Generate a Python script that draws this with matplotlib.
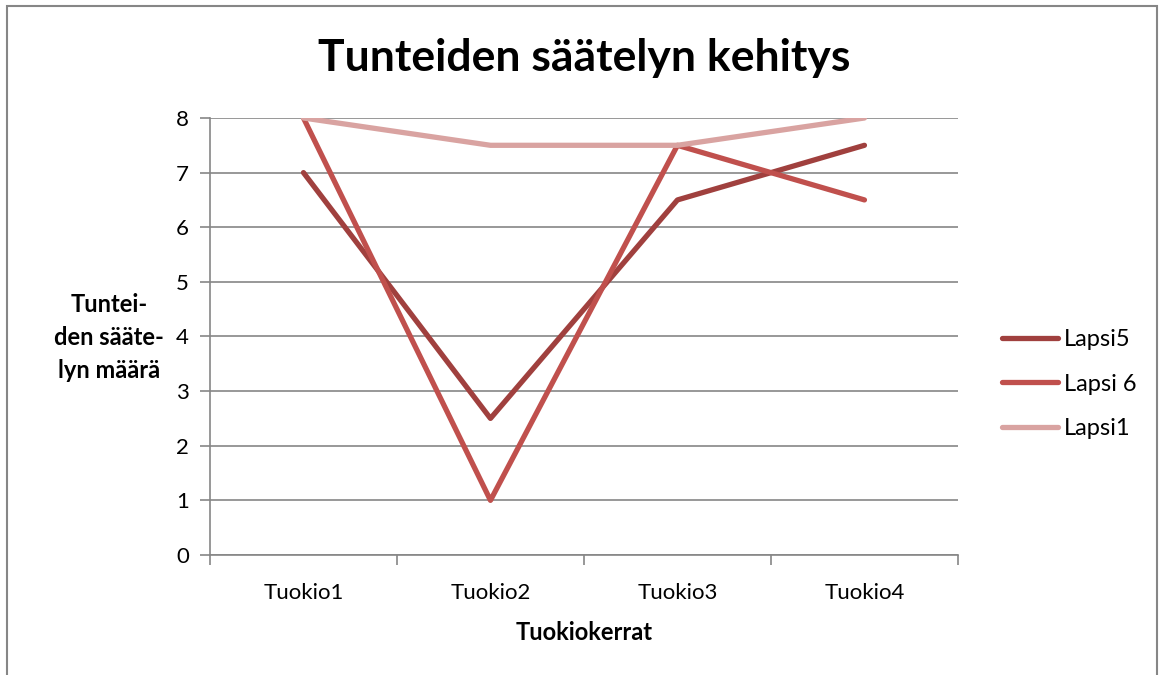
import numpy as np
import matplotlib.pyplot as plt
from matplotlib.patches import Rectangle

plt.rcParams['font.family'] = ['Lato', 'DejaVu Sans']

categories = ['Tuokio1', 'Tuokio2', 'Tuokio3', 'Tuokio4']
lapsi5 = [7, 2.5, 6.5, 7.5]
lapsi6 = [8, 1, 7.5, 6.5]
lapsi1 = [8, 7.5, 7.5, 8]

series = [('Lapsi5', lapsi5, '#A0403E'),
          ('Lapsi 6', lapsi6, '#C0504D'),
          ('Lapsi1', lapsi1, '#D9A3A1')]

fig = plt.figure(figsize=(11.62, 6.75), dpi=100)
ax = fig.add_axes([0.1807, 0.1778, 0.6437, 0.6474])

x = np.arange(len(categories))
for name, vals, col in series:
    ax.plot(x, vals, color=col, lw=3.8, label=name, solid_capstyle='round')

ax.set_xlim(-0.5, len(categories) - 0.5)
ax.set_ylim(0, 8)
ax.set_yticks(range(0, 9))
ax.set_xticks(x)
ax.set_xticklabels(categories)
ax.set_xticks(np.arange(-0.5, len(categories)), minor=True)
ax.tick_params(axis='x', which='major', length=0, pad=20, labelsize=16)
ax.tick_params(axis='x', which='minor', length=7, color='#868686', width=1.2)
ax.tick_params(axis='y', length=7, color='#868686', width=1.2, labelsize=16, pad=8)
ax.yaxis.grid(True, color='#868686', lw=1.2)
ax.set_axisbelow(True)
for s in ['top', 'right']:
    ax.spines[s].set_visible(False)
for s in ['left', 'bottom']:
    ax.spines[s].set_color('#868686')
    ax.spines[s].set_linewidth(1.2)

ax.set_xlabel('Tuokiokerrat', fontsize=17, fontweight='bold', labelpad=13)
fig.text(0.094, 0.5, 'Tuntei-\nden sääte-\nlyn määrä', ha='center', va='center',
         fontsize=17, fontweight='bold', linespacing=1.55)
fig.text(0.503, 0.914, 'Tunteiden säätelyn kehitys', ha='center', va='center',
         fontsize=32, fontweight='bold')

leg = ax.legend(loc='center left', bbox_to_anchor=(1.03, 0.391), frameon=False,
                fontsize=17, handlelength=2.4, handletextpad=0.25, labelspacing=1.0)

fig.patches.append(Rectangle((7 / 1162, -0.1), 1150 / 1162, 1.1 - 6 / 675,
                             transform=fig.transFigure, fill=False,
                             edgecolor='#868686', lw=1.5))

fig.savefig('out.png', dpi=100)
